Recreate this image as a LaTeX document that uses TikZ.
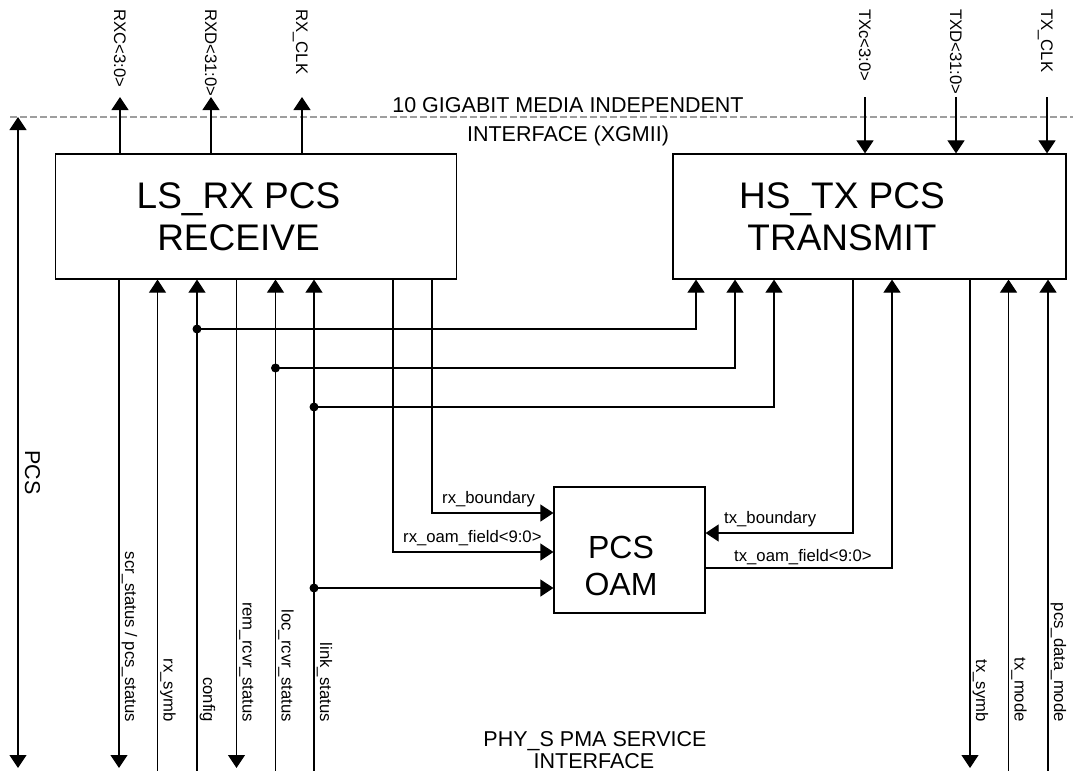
\documentclass[tikz,border=0pt]{standalone}
\usepackage{fontspec}
\setmainfont{Liberation Sans}
\usetikzlibrary{arrows.meta}
\begin{document}
\begin{tikzpicture}[x=1bp,y=-1bp,
  wire/.style={line width=1.2bp, black},
  arr/.style={wire, -{Triangle[width=17bp,length=13bp]}},
  darr/.style={wire, {Triangle[width=17bp,length=13bp]}-{Triangle[width=17bp,length=13bp]}},
  box/.style={draw, line width=1.2bp, inner sep=0pt, fill=white},
  lbl/.style={font=\fontsize{16.7bp}{20bp}\selectfont, inner sep=0pt},
  vlbl/.style={lbl, rotate=-90},
  big/.style={font=\fontsize{37bp}{44bp}\selectfont, inner sep=0pt},
  oamtxt/.style={font=\fontsize{32bp}{38bp}\selectfont, inner sep=0pt},
  mid/.style={font=\fontsize{21.5bp}{25bp}\selectfont, inner sep=0pt},
  xgline/.style={draw=black!38, line width=1.3bp, dash pattern=on 7bp off 3bp},
  jdot/.style={fill=black}
]
\useasboundingbox (0,0) rectangle (1073,771);

% interface line
\coordinate (dL) at (10,117);
\coordinate (dR) at (1073,117);
\draw[xgline] (dL) -- (dR);

% boxes
\node[box, minimum width=401bp, minimum height=125bp] (rx) at (256.3,216.5) {};
\node[box, minimum width=393bp, minimum height=125bp] (tx) at (869.5,216.5) {};
\node[box, minimum width=151bp, minimum height=126bp] (oam) at (629.5,550) {};

\node[big, anchor=base] (trx1) at (238.5,208) {LS\_RX PCS};
\node[big, anchor=base] (trx2) at (238.5,250) {RECEIVE};
\node[big, anchor=base] (ttx1) at (842,208) {HS\_TX PCS};
\node[big, anchor=base] (ttx2) at (842,250) {TRANSMIT};
\node[oamtxt, anchor=base] (toam1) at (621,558) {PCS};
\node[oamtxt, anchor=base] (toam2) at (621,595) {OAM};

% interface texts
\node[mid, anchor=base] (x1) at (568,112) {10 GIGABIT MEDIA INDEPENDENT};
\node[mid, anchor=base] (x2) at (568,141) {INTERFACE (XGMII)};
\node[mid, anchor=base] (p1) at (595,746.5) {PHY\_S PMA SERVICE};
\node[mid, anchor=base] (p2) at (594,768.5) {INTERFACE};

% PCS span
\coordinate (pcsT) at (18,117);
\coordinate (pcsB) at (18,768);
\draw[darr] (pcsB) -- (pcsT);
\node[mid, rotate=-90, anchor=base west] (lpcs) at (25,450) {PCS};

% top RX outputs
\coordinate (rxcT) at (120,97);
\coordinate (rxdT) at (211,97);
\coordinate (rxkT) at (302,97);
\draw[arr] (rx.north -| rxcT) -- (rxcT);
\draw[arr] (rx.north -| rxdT) -- (rxdT);
\draw[arr] (rx.north -| rxkT) -- (rxkT);
\node[vlbl, anchor=base west] (lrxc) at (114,9) {RXC<3:0>};
\node[vlbl, anchor=base west] (lrxd) at (205,9) {RXD<31:0>};
\node[vlbl, anchor=base west] (lrxk) at (296,9) {RX\_CLK};

% top TX inputs
\coordinate (txcT) at (865,97);
\coordinate (txdT) at (956,97);
\coordinate (txkT) at (1047,97);
\draw[arr] (txcT) -- (tx.north -| txcT);
\draw[arr] (txdT) -- (tx.north -| txdT);
\draw[arr] (txkT) -- (tx.north -| txkT);
\node[vlbl, anchor=base west] (ltxc) at (859,9) {TXc<3:0>};
\node[vlbl, anchor=base west] (ltxd) at (950,9) {TXD<31:0>};
\node[vlbl, anchor=base west] (ltxk) at (1041,9) {TX\_CLK};

% bottom RX signals
\coordinate (bscr) at (119,768);
\coordinate (bsym) at (157.5,771);
\coordinate (bcfg) at (197,771);
\coordinate (brem) at (236.5,768);
\coordinate (bloc) at (275.5,771);
\coordinate (blnk) at (314,771);
\draw[arr] (rx.south -| bscr) -- (bscr);
\draw[arr] (bsym) -- (rx.south -| bsym);
\draw[arr] (bcfg) -- (rx.south -| bcfg);
\draw[arr] (rx.south -| brem) -- (brem);
\draw[arr] (bloc) -- (rx.south -| bloc);
\draw[arr] (blnk) -- (rx.south -| blnk);
\node[vlbl, anchor=base east] (lscr) at (125,722) {scr\_status / pcs\_status};
\node[vlbl, anchor=base east] (lsym) at (163.5,722) {rx\_symb};
\node[vlbl, anchor=base east] (lcfg) at (203,722) {config};
\node[vlbl, anchor=base east] (lrem) at (242.5,722) {rem\_rcvr\_status};
\node[vlbl, anchor=base east] (lloc) at (281.5,722) {loc\_rcvr\_status};
\node[vlbl, anchor=base east] (llnk) at (320,722) {link\_status};

% bottom TX signals
\coordinate (btxs) at (970,768);
\coordinate (btxm) at (1008.5,771);
\coordinate (bpdm) at (1048,771);
\draw[arr] (tx.south -| btxs) -- (btxs);
\draw[arr] (btxm) -- (tx.south -| btxm);
\draw[arr] (bpdm) -- (tx.south -| bpdm);
\node[vlbl, anchor=base east] (ltxs) at (976,722) {tx\_symb};
\node[vlbl, anchor=base east] (ltxm) at (1014.5,722) {tx\_mode};
\node[vlbl, anchor=base east] (lpdm) at (1054,722) {pcs\_data\_mode};

% shared signals to TX
\coordinate (j1) at (197,329);   \coordinate (k1) at (696,329);
\coordinate (j2) at (275.5,368); \coordinate (k2) at (735,368);
\coordinate (j3) at (314,407);   \coordinate (k3) at (774,407);
\coordinate (j4) at (314,588);
\draw[arr] (j1) -- (k1) -- (tx.south -| k1);
\draw[arr] (j2) -- (k2) -- (tx.south -| k2);
\draw[arr] (j3) -- (k3) -- (tx.south -| k3);
\draw[arr] (j4) -- (oam.west |- j4);
\fill[jdot] (j1) circle[radius=4.5bp];
\fill[jdot] (j2) circle[radius=4.5bp];
\fill[jdot] (j3) circle[radius=4.5bp];
\fill[jdot] (j4) circle[radius=4.5bp];

% OAM connections
\coordinate (rbd) at (432,513);
\coordinate (rof) at (393,552);
\coordinate (tbd) at (853,533);
\coordinate (tof) at (892,568);
\draw[arr] (rx.south -| rbd) -- (rbd) -- (oam.west |- rbd);
\draw[arr] (rx.south -| rof) -- (rof) -- (oam.west |- rof);
\draw[arr] (tx.south -| tbd) -- (tbd) -- (oam.east |- tbd);
\draw[arr] (oam.east |- tof) -- (tof) -- (tx.south -| tof);
\node[lbl, anchor=base west] (lrbd) at (442,503) {rx\_boundary};
\node[lbl, anchor=base west] (lrof) at (403,542) {rx\_oam\_field<9:0>};
\node[lbl, anchor=base west] (ltbd) at (724,523) {tx\_boundary};
\node[lbl, anchor=base west] (ltof) at (734,561) {tx\_oam\_field<9:0>};
\end{tikzpicture}
\end{document}
